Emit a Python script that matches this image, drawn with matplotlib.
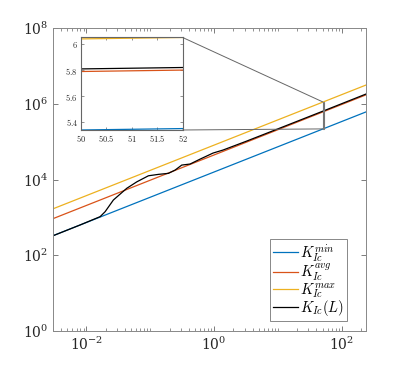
import matplotlib
matplotlib.use("Agg")
import matplotlib.pyplot as plt
from matplotlib.patches import Rectangle, ConnectionPatch
from matplotlib.ticker import LogLocator, FixedLocator, FuncFormatter, NullFormatter

plt.rcParams['mathtext.fontset'] = 'cm'
plt.rcParams['font.family'] = ['DejaVu Serif']

# ---- data ----
L_line = [0.003, 240.0]
K_min = [329.6, 613800.0]
K_avg = [929.0, 1730000.0]
K_max = [1690.0, 3148000.0]

L_curve = [0.0030, 0.00794, 0.01637, 0.01959, 0.02642, 0.04285, 0.06152, 0.09354,
           0.1340, 0.1923, 0.2443, 0.3112, 0.4198, 0.6026, 0.9616, 1.380,
           3.162, 10.0, 51.05, 239.9]
K_curve = [328, 631, 1047, 1413, 2884, 5888, 8710, 12590,
           13710, 14590, 17780, 24150, 25700, 34670, 50120, 60260,
           102300, 218800, 645700, 1820000]

# inset: log10 values near L = 50..52
inset_L = [50.0, 52.0]
inset_min = [5.338, 5.349]
inset_avg = [5.790, 5.801]
inset_max = [6.042, 6.053]
inset_curve = [5.810, 5.821]

xlim = [0.003, 240.0]
ylim = [1.0, 1e8]
inset_xlim = [50.0, 52.0]
inset_ylim = [5.338, 6.053]

labels = [r'$K_{Ic}^{min}$', r'$K_{Ic}^{avg}$', r'$K_{Ic}^{max}$', r'$K_{Ic}(L)$']
colors = ['#0072BD', '#D95319', '#EDB120', 'black']

fig = plt.figure(figsize=(4.05, 3.73), dpi=100)
ax = fig.add_axes([0.131, 0.1126, 0.773, 0.812])
lw = 0.9
ax.loglog(L_line, K_min, color=colors[0], lw=lw, label=labels[0])
ax.loglog(L_line, K_avg, color=colors[1], lw=lw, label=labels[1])
ax.loglog(L_line, K_max, color=colors[2], lw=lw, label=labels[2])
ax.loglog(L_curve, K_curve, color=colors[3], lw=lw, label=labels[3])
ax.set_xlim(xlim)
ax.set_ylim(ylim)

ax.xaxis.set_major_locator(FixedLocator([1e-2, 1e0, 1e2]))
ax.xaxis.set_minor_locator(LogLocator(base=10, subs=range(1, 10), numticks=50))
ax.xaxis.set_minor_formatter(NullFormatter())
ax.yaxis.set_major_locator(FixedLocator([1e0, 1e2, 1e4, 1e6, 1e8]))
ax.yaxis.set_minor_locator(FixedLocator([]))
ax.tick_params(which='both', direction='in', top=True, right=True, colors='#666666',
               labelcolor='#262626', labelsize=10)
ax.tick_params(which='major', length=3.5, width=0.6)
ax.tick_params(which='minor', length=2, width=0.5)
for s in ax.spines.values():
    s.set_color('#888888')
    s.set_linewidth(0.7)

leg = ax.legend(loc='lower right', bbox_to_anchor=(0.939, 0.034), borderaxespad=0,
                fontsize=10.5, fancybox=False, framealpha=1, edgecolor='#888888',
                handlelength=1.7, handletextpad=0.15, labelspacing=-0.12,
                borderpad=0.2)
leg.get_frame().set_linewidth(0.7)

# zoom rectangle
rect = Rectangle((inset_xlim[0], 10**inset_ylim[0]), inset_xlim[1] - inset_xlim[0],
                 10**inset_ylim[1] - 10**inset_ylim[0], fill=False,
                 edgecolor='#777777', lw=0.8, zorder=5)
ax.add_patch(rect)

# inset
axi = fig.add_axes([0.199, 0.6515, 0.252, 0.248])
axi.plot(inset_L, inset_min, color=colors[0], lw=lw)
axi.plot(inset_L, inset_avg, color=colors[1], lw=lw)
axi.plot(inset_L, inset_max, color=colors[2], lw=lw)
axi.plot(inset_L, inset_curve, color=colors[3], lw=lw)
axi.set_xlim(inset_xlim)
axi.set_ylim(inset_ylim)
axi.set_xticks([50, 50.5, 51, 51.5, 52])
axi.set_yticks([5.4, 5.6, 5.8, 6.0])
fmt = FuncFormatter(lambda v, p: f'${v:g}$')
axi.xaxis.set_major_formatter(fmt)
axi.yaxis.set_major_formatter(fmt)
axi.tick_params(direction='in', top=True, right=True, labelsize=6, length=2,
                width=0.5, colors='#666666', labelcolor='#262626', pad=2)
for s in axi.spines.values():
    s.set_color('#666666')
    s.set_linewidth(0.8)

# connectors
for (xa, ya), (xb, yb) in [((1, 1), (inset_xlim[0], 10**inset_ylim[1])),
                            ((1, 0), (inset_xlim[0], 10**inset_ylim[0]))]:
    cp = ConnectionPatch(xyA=(xa, ya), coordsA=axi.transAxes,
                         xyB=(xb, yb), coordsB=ax.transData,
                         color='#666666', lw=0.7)
    fig.add_artist(cp)

fig.savefig('out.png', dpi=100)
